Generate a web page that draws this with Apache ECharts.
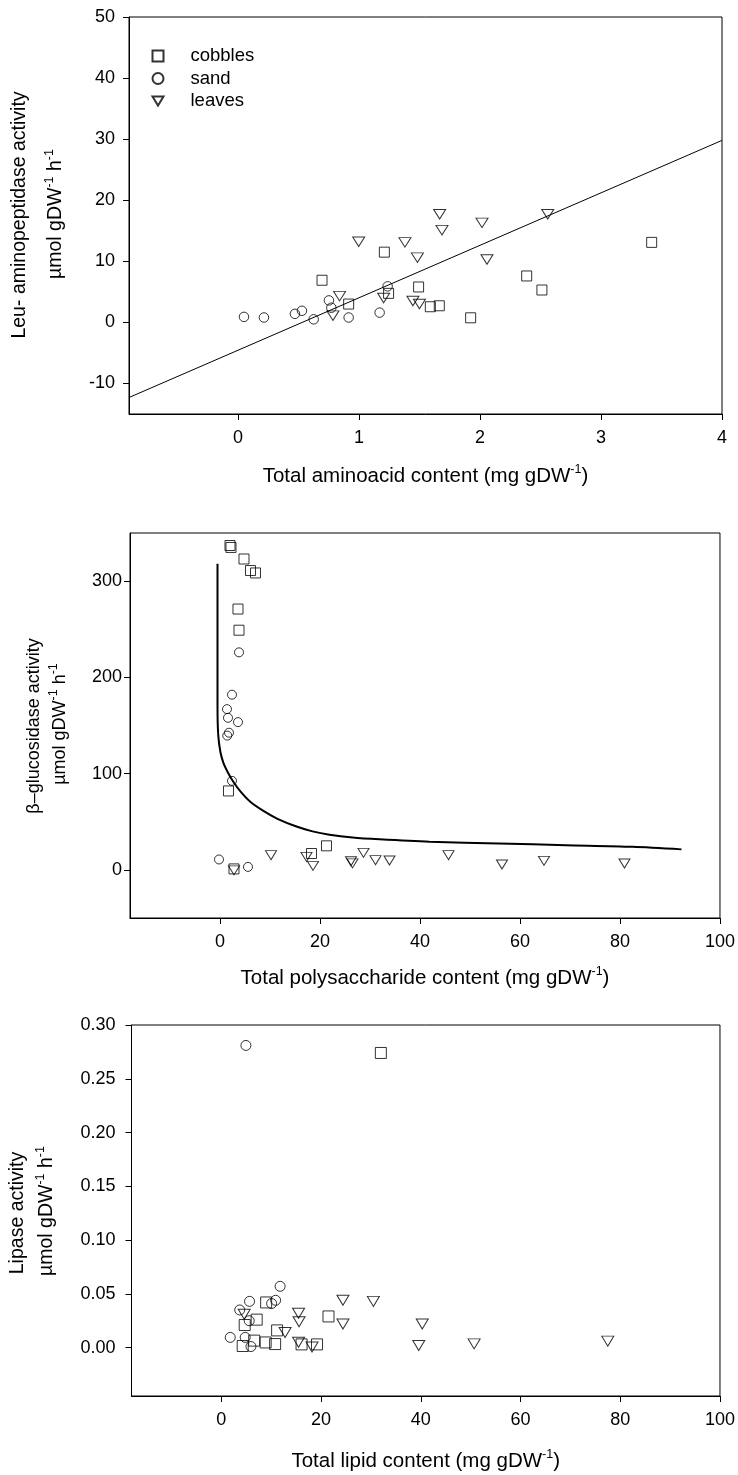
<!DOCTYPE html>
<html>
<head>
<meta charset="utf-8">
<script src="https://cdn.jsdelivr.net/npm/echarts@6/dist/echarts.min.js"></script>
<style>
  html, body { margin: 0; padding: 0; background: #fff; }
  #chart { width: 738px; height: 1475px; }
</style>
</head>
<body>
<div id="chart"></div>
<script>
// ---- Leu-aminopeptidase vs total aminoacid content ----
const aminoCobbles = [[0.695, 6.9], [0.915, 3.0], [1.21, 11.5], [1.245, 4.75], [1.493, 5.8], [1.59, 2.56],
  [1.664, 2.72], [1.923, 0.75], [2.386, 7.6], [2.512, 5.3], [3.419, 13.1]];
const aminoSand = [[0.05, 0.9], [0.215, 0.8], [0.471, 1.4], [0.529, 1.9], [0.626, 0.5], [0.752, 3.6],
  [0.772, 2.4], [0.915, 0.8], [1.171, 1.6], [1.237, 5.9]];
const aminoLeaves = [[0.785, 1.1], [0.84, 4.3], [0.998, 13.2], [1.204, 4.0], [1.38, 13.1], [1.446, 3.5],
  [1.483, 10.6], [1.50, 3.0], [1.667, 17.7], [1.686, 15.1], [2.017, 16.3], [2.058, 10.3], [2.56, 17.7]];
const aminoFit = [[-0.9, -12.3], [4, 29.8]];
const aminoXTicks = [0, 1, 2, 3, 4];
const aminoYTicks = [-10, 0, 10, 20, 30, 40, 50];

// ---- beta-glucosidase vs total polysaccharide content ----
const polyCobbles = [[2.0, 337], [2.2, 335], [4.8, 323], [6.1, 311], [7.1, 308.5], [3.6, 271], [3.8, 249],
  [1.7, 82], [2.8, 1], [18.3, 17], [21.3, 25]];
const polySand = [[3.8, 226], [2.4, 182], [1.4, 167], [1.6, 158], [3.6, 153.5], [1.8, 142.5], [1.45, 139.5],
  [2.4, 92.5], [-0.2, 10.8], [5.6, 3.1]];
const polyLeaves = [[2.8, -0.5], [10.2, 15.3], [17.3, 13.5], [18.6, 4.2], [26.2, 9], [26.5, 6.8], [28.7, 17.7],
  [31.1, 10.1], [33.9, 9.8], [45.7, 15.3], [56.4, 5.6], [64.8, 9.4], [80.9, 6.7]];
const polyCurve = [[-0.5, 318], [-0.5, 240], [-0.5, 170], [-0.35, 140], [0.1, 122], [0.7, 111], [1.5, 102],
  [2.6, 92], [4.0, 82], [6.0, 71], [8.6, 61.5], [11.5, 53], [15.3, 45], [18.5, 40], [21.9, 36.5],
  [26.5, 33.6], [31.9, 31.7], [41.9, 29.2], [55.8, 27.5], [69.2, 25.7], [82.5, 24], [92.3, 21.3]];
const polyXTicks = [0, 20, 40, 60, 80, 100];
const polyYTicks = [0, 100, 200, 300];

// ---- Lipase vs total lipid content ----
const lipidCobbles = [[32.0, 0.274], [9.0, 0.042], [7.1, 0.026], [4.7, 0.021], [6.6, 0.0065], [4.3, 0.0015],
  [8.9, 0.0048], [10.8, 0.0033], [11.2, 0.016], [21.5, 0.029], [16.1, 0.003], [19.2, 0.003]];
const lipidSand = [[4.94, 0.281], [11.8, 0.057], [5.67, 0.043], [3.7, 0.035], [10.9, 0.044], [10.1, 0.041],
  [5.6, 0.025], [1.8, 0.0095], [4.8, 0.0095], [5.95, 0.001]];
const lipidLeaves = [[4.6, 0.031], [12.8, 0.014], [15.5, 0.032], [15.6, 0.024], [15.5, 0.005], [18.2, 0.0005],
  [24.4, 0.044], [24.4, 0.022], [30.5, 0.043], [40.3, 0.022], [39.6, 0.002], [50.7, 0.0035], [77.5, 0.006]];
const lipidXTicks = [0, 20, 40, 60, 80, 100];
const lipidYTicks = [0, 0.05, 0.10, 0.15, 0.20, 0.25, 0.30];

const legendNames = ['cobbles', 'sand', 'leaves'];

const FONT = '"Liberation Sans", Arial, Helvetica, sans-serif';
const INK = '#000';
const SUP = { fontSize: 12.5, lineHeight: 12, verticalAlign: 'top', fontFamily: FONT, color: INK };

const symbolFor = { cobbles: 'rect', sand: 'circle', leaves: 'triangle' };

function scatter(name, data, gi, sizes) {
  return {
    type: 'scatter', name, data,
    xAxisIndex: gi, yAxisIndex: gi,
    symbol: symbolFor[name],
    symbolRotate: name === 'leaves' ? 180 : 0,
    symbolSize: sizes[name],
    itemStyle: { color: 'rgba(255,255,255,0)', borderColor: INK, borderWidth: 1 },
    emphasis: { disabled: true },
    silent: true, z: 3
  };
}

function xAxis(gi, min, max, ticks, name, gap) {
  return {
    type: 'value', gridIndex: gi, min, max,
    name, nameLocation: 'middle', nameGap: gap,
    nameTextStyle: { fontSize: 20.5, lineHeight: 26, color: INK, fontFamily: FONT, rich: { s: SUP } },
    axisLine: { show: true, onZero: false, lineStyle: { color: INK, width: 1 } },
    axisTick: { show: true, inside: false, length: 6, customValues: ticks, lineStyle: { color: INK, width: 1 } },
    axisLabel: { customValues: ticks, color: INK, fontSize: 18, fontFamily: FONT, margin: 15 },
    splitLine: { show: false }
  };
}

function yAxis(gi, min, max, ticks, margin, fmt) {
  return {
    type: 'value', gridIndex: gi, min, max,
    axisLine: { show: true, onZero: false, lineStyle: { color: INK, width: 1 } },
    axisTick: { show: true, inside: false, length: 6, customValues: ticks, lineStyle: { color: INK, width: 1 } },
    axisLabel: { customValues: ticks, color: INK, fontSize: 18, fontFamily: FONT, margin,
      formatter: fmt || (v => String(v)) },
    splitLine: { show: false }
  };
}

function vText(x, y, text, size) {
  return {
    type: 'text', x, y, rotation: Math.PI / 2, silent: true,
    style: {
      text, fill: INK, fontSize: size, fontFamily: FONT, lineHeight: 26,
      align: 'center', verticalAlign: 'middle',
      rich: { s: SUP }
    }
  };
}

const size1 = { cobbles: 10, sand: 9.5, leaves: [12, 9.5] };
const size2 = { cobbles: 10, sand: 9, leaves: [11, 9] };
const size3 = { cobbles: 11, sand: 10, leaves: [12, 10] };

const option = {
  animation: false,
  backgroundColor: '#fff',
  textStyle: { fontFamily: FONT, color: INK },
  grid: [
    { left: 129, top: 17, width: 593, height: 397, show: true, borderColor: INK, borderWidth: 1, backgroundColor: 'transparent' },
    { left: 130, top: 533, width: 591, height: 385, show: true, borderColor: INK, borderWidth: 1, backgroundColor: 'transparent' },
    { left: 131.5, top: 1025, width: 589, height: 371, show: true, borderColor: INK, borderWidth: 1, backgroundColor: 'transparent' }
  ],
  xAxis: [
    xAxis(0, -0.9, 4, aminoXTicks, 'Total aminoacid content (mg gDW{s|-1})', 49),
    xAxis(1, -18, 100, polyXTicks, 'Total polysaccharide content (mg gDW{s|-1})', 47),
    xAxis(2, -18, 100, lipidXTicks, 'Total lipid content (mg gDW{s|-1})', 52)
  ],
  yAxis: [
    yAxis(0, -15, 50, aminoYTicks, 14),
    yAxis(1, -50, 350, polyYTicks, 8),
    yAxis(2, -0.045, 0.30, lipidYTicks, 16, v => v.toFixed(2))
  ],
  legend: {
    left: 151.5, top: 46.5, orient: 'vertical', padding: 0,
    itemWidth: 11, itemHeight: 11, itemGap: 3.5,
    selectedMode: false,
    textStyle: { fontSize: 18.5, color: INK, fontFamily: FONT, padding: [0, 0, 0, 22] },
    data: [
      { name: 'cobbles', icon: 'rect' },
      { name: 'sand', icon: 'circle' },
      { name: 'leaves', icon: 'path://M0,0L12,0L6,10Z' }
    ]
  },
  graphic: [
    vText(20, 215, 'Leu- aminopeptidase activity', 19.5),
    vText(56, 214, 'µmol gDW{s|-1} h{s|-1}', 19.5),
    vText(34, 726, 'β–glucosidase activity', 18),
    vText(60, 724, 'µmol gDW{s|-1} h{s|-1}', 18),
    vText(18, 1213, 'Lipase activity', 19.5),
    vText(47, 1211, 'µmol gDW{s|-1} h{s|-1}', 19.5)
  ],
  series: [
    scatter('cobbles', aminoCobbles, 0, size1),
    scatter('sand', aminoSand, 0, size1),
    scatter('leaves', aminoLeaves, 0, size1),
    {
      type: 'line', name: 'fit', data: aminoFit, xAxisIndex: 0, yAxisIndex: 0,
      showSymbol: false, silent: true, lineStyle: { color: INK, width: 1 }, z: 2
    },
    scatter('cobbles', polyCobbles, 1, size2),
    scatter('sand', polySand, 1, size2),
    scatter('leaves', polyLeaves, 1, size2),
    {
      type: 'line', name: 'curve', data: polyCurve, xAxisIndex: 1, yAxisIndex: 1,
      showSymbol: false, silent: true, smooth: 0.3, lineStyle: { color: INK, width: 2 }, z: 2
    },
    scatter('cobbles', lipidCobbles, 2, size3),
    scatter('sand', lipidSand, 2, size3),
    scatter('leaves', lipidLeaves, 2, size3)
  ]
};

const chart = echarts.init(document.getElementById('chart'), null, { renderer: 'canvas' });
chart.setOption(option);
</script>
</body>
</html>
